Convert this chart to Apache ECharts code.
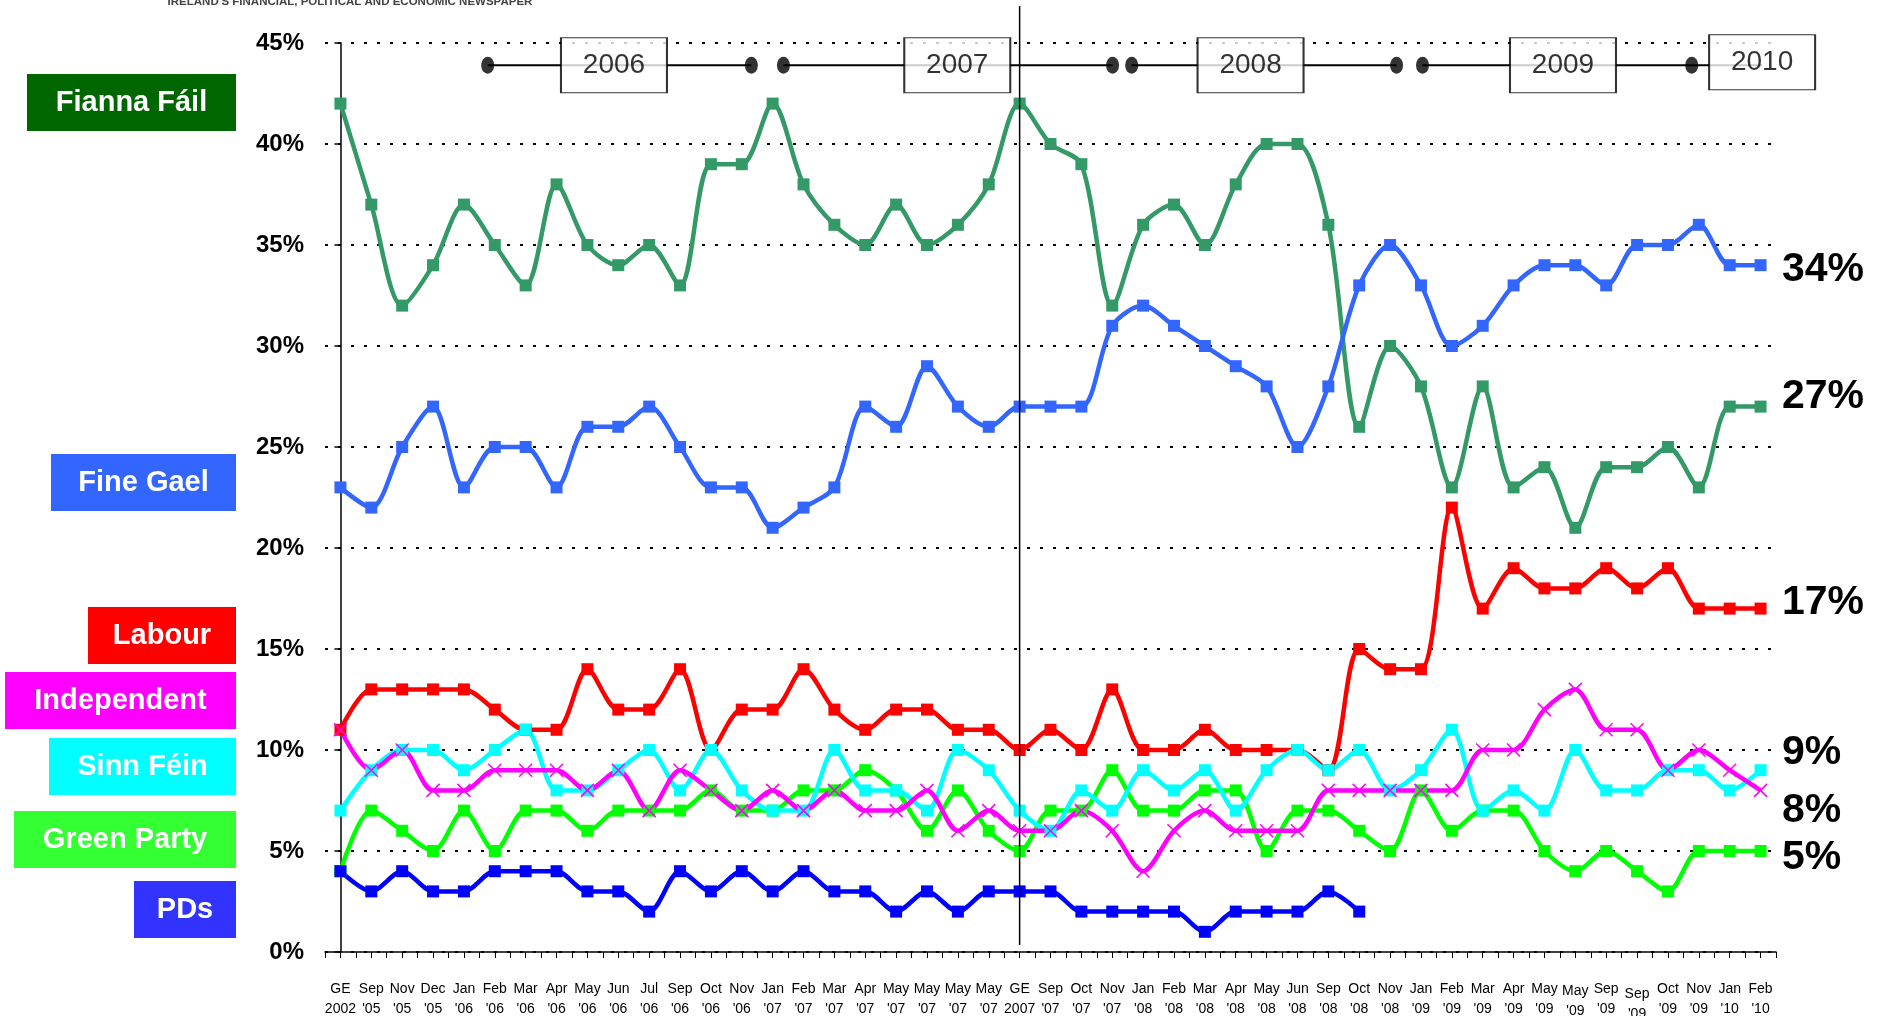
<!DOCTYPE html>
<html>
<head>
<meta charset="utf-8">
<script src="https://cdn.jsdelivr.net/npm/echarts@6/dist/echarts.min.js"></script>
<style>
html, body { margin: 0; padding: 0; background: #fff; }
#main { width: 1887px; height: 1016px; }
</style>
</head>
<body>
<div id="main"></div>
<script>
var FONT = '"Liberation Sans", Arial, Helvetica, sans-serif';

// poll dates (x axis)
var categories = ["GE\n2002", "Sep\n'05", "Nov\n'05", "Dec\n'05", "Jan\n'06", "Feb\n'06", "Mar\n'06", "Apr\n'06",
  "May\n'06", "Jun\n'06", "Jul\n'06", "Sep\n'06", "Oct\n'06", "Nov\n'06", "Jan\n'07", "Feb\n'07",
  "Mar\n'07", "Apr\n'07", "May\n'07", "May\n'07", "May\n'07", "May\n'07", "GE\n2007", "Sep\n'07",
  "Oct\n'07", "Nov\n'07", "Jan\n'08", "Feb\n'08", "Mar\n'08", "Apr\n'08", "May\n'08", "Jun\n'08",
  "Sep\n'08", "Oct\n'08", "Nov\n'08", "Jan\n'09", "Feb\n'09", "Mar\n'09", "Apr\n'09", "May\n'09",
  "May\n'09", "Sep\n'09", "Sep\n'09", "Oct\n'09", "Nov\n'09", "Jan\n'10", "Feb\n'10"];
// labels that sit a little lower in the original (index -> extra px)
var loweredLabels = { 40: 2, 42: 5 };

var fiannaFail = [42, 37, 32, 34, 37, 35, 33, 38, 35, 34, 35, 33, 39, 39, 42, 38, 36, 35, 37, 35, 36, 38, 42, 40,
  39, 32, 36, 37, 35, 38, 40, 40, 36, 26, 30, 28, 23, 28, 23, 24, 21, 24, 24, 25, 23, 27, 27];
var fineGael = [23, 22, 25, 27, 23, 25, 25, 23, 26, 26, 27, 25, 23, 23, 21, 22, 23, 27, 26, 29, 27, 26, 27, 27,
  27, 31, 32, 31, 30, 29, 28, 25, 28, 33, 35, 33, 30, 31, 33, 34, 34, 33, 35, 35, 36, 34, 34];
var labour = [11, 13, 13, 13, 13, 12, 11, 11, 14, 12, 12, 14, 10, 12, 12, 14, 12, 11, 12, 12, 11, 11, 10, 11,
  10, 13, 10, 10, 11, 10, 10, 10, 9, 15, 14, 14, 22, 17, 19, 18, 18, 19, 18, 19, 17, 17, 17];
var sinnFein = [7, 9, 10, 10, 9, 10, 11, 8, 8, 9, 10, 8, 10, 8, 7, 7, 10, 8, 8, 7, 10, 9, 7, 6,
  8, 7, 9, 8, 9, 7, 9, 10, 9, 10, 8, 9, 11, 7, 8, 7, 10, 8, 8, 9, 9, 8, 9];
var greenParty = [4, 7, 6, 5, 7, 5, 7, 7, 6, 7, 7, 7, 8, 7, 7, 8, 8, 9, 8, 6, 8, 6, 5, 7,
  7, 9, 7, 7, 8, 8, 5, 7, 7, 6, 5, 8, 6, 7, 7, 5, 4, 5, 4, 3, 5, 5, 5];
var independent = [11, 9, 10, 8, 8, 9, 9, 9, 8, 9, 7, 9, 8, 7, 8, 7, 8, 7, 7, 8, 6, 7, 6, 6,
  7, 6, 4, 6, 7, 6, 6, 6, 8, 8, 8, 8, 8, 10, 10, 12, 13, 11, 11, 9, 10, 9, 8];
var pds = [4, 3, 4, 3, 3, 4, 4, 4, 3, 3, 2, 4, 3, 4, 3, 4, 3, 3, 2, 3, 2, 3, 3, 3,
  2, 2, 2, 2, 1, 2, 2, 2, 3, 2, null, null, null, null, null, null, null, null, null, null, null, null, null];

var yTicks = [0, 5, 10, 15, 20, 25, 30, 35, 40, 45];

// year timeline along the top (positions in category units)
var yearLabels = ['2006', '2007', '2008', '2009', '2010'];
var yearBoxAt = [8.86, 19.98, 29.48, 39.6, 46.05];
var yearDots = [4.77, 13.31, 14.35, 25.01, 25.63, 34.21, 35.05, 43.77];
var yearSegments = [[4.77, 13.31], [14.35, 25.01], [25.63, 34.21], [35.05, 46.05]];
var timelineY = 43.9;

var partyNames = ['Fianna Fáil', 'Fine Gael', 'Labour', 'Independent', 'Sinn Féin', 'Green Party', 'PDs'];
var partyColors = ['#006600', '#3366FF', '#FF0000', '#FF00FF', '#00FFFF', '#33FF33', '#3333FF'];
var lineColors = ['#339966', '#3366FF', '#FF0000', '#FF00FF', '#00FFFF', '#00FF00', '#0000FF'];

var endLabels = ['34%', '27%', '17%', '9%', '8%', '5%'];
var endLabelAt = [33.8, 27.5, 17.3, 9.85, 7.0, 4.65];

var myChart = echarts.init(document.getElementById('main'), null, { renderer: 'canvas' });

function partySeries(name, data, color, cross) {
  return {
    name: name,
    type: 'line',
    data: data,
    smooth: 0.3,
    connectNulls: false,
    symbol: cross ? 'path://M0,0L10,10M10,0L0,10' : 'rect',
    symbolSize: cross ? 13 : 12,
    showAllSymbol: true,
    lineStyle: { color: color, width: 4.5 },
    itemStyle: cross ? { color: color, borderColor: color, borderWidth: 1.5 } : { color: color },
    emphasis: { disabled: true },
    z: 3
  };
}

var segData = [];
yearSegments.forEach(function (s) {
  segData.push([s[0], timelineY], [s[1], timelineY], [null, null]);
});

var catData = categories.map(function (c, i) {
  if (loweredLabels[i]) {
    return { value: c, textStyle: { padding: [loweredLabels[i], 0, 0, 0] } };
  }
  return c;
});

var option = {
  animation: false,
  backgroundColor: '#fff',
  grid: { left: 325, right: 111, top: 43, bottom: 64, containLabel: false, outerBoundsMode: 'none' },
  xAxis: [{
    type: 'category',
    data: catData,
    boundaryGap: true,
    axisLine: { lineStyle: { color: '#000', width: 1.5 } },
    axisTick: { show: false },
    axisLabel: {
      interval: 0, color: '#000', fontFamily: FONT, fontSize: 14, lineHeight: 20,
      margin: 27, hideOverlap: false
    },
    splitLine: { show: false }
  }, {
    type: 'value',
    min: -0.5, max: 46.5, interval: 0.5,
    position: 'bottom',
    axisLine: { show: false },
    axisTick: { show: true, length: 6, lineStyle: { color: '#000', width: 1 } },
    axisLabel: { show: false },
    splitLine: { show: false }
  }],
  yAxis: {
    type: 'value',
    min: yTicks[0], max: yTicks[yTicks.length - 1], interval: 5,
    axisLine: { show: true, lineStyle: { color: '#000', width: 1.5 } },
    axisTick: { show: true, length: 6, lineStyle: { color: '#000', width: 1.5 } },
    axisLabel: { formatter: '{value}%', color: '#000', fontFamily: FONT, fontWeight: 'bold', fontSize: 24, margin: 21 },
    splitLine: { show: true, lineStyle: { color: '#000', width: 2, type: [3, 10] } }
  },
  series: [
    partySeries('Fianna Fáil', fiannaFail, lineColors[0]),
    partySeries('Fine Gael', fineGael, lineColors[1]),
    partySeries('Labour', labour, lineColors[2]),
    partySeries('Green Party', greenParty, lineColors[5]),
    partySeries('Sinn Féin', sinnFein, lineColors[4]),
    partySeries('Independent', independent, lineColors[3], true),
    partySeries('PDs', pds, lineColors[6]),
    {
      type: 'line', xAxisIndex: 1, data: segData, symbol: 'none', connectNulls: false,
      lineStyle: { color: '#000', width: 2 }, z: 4, silent: true
    },
    {
      type: 'scatter', xAxisIndex: 1, symbol: 'circle', symbolSize: [13, 17], clip: false,
      data: yearDots.map(function (x) { return [x, timelineY]; }),
      itemStyle: { color: '#000' }, z: 5, silent: true
    },
    {
      type: 'scatter', xAxisIndex: 1, symbol: 'rect', symbolSize: [106, 55], clip: false,
      data: yearLabels.map(function (t, i) { return { value: [yearBoxAt[i], i === 4 ? 44.05 : timelineY], name: t }; }),
      itemStyle: { color: '#fff', borderColor: '#000', borderWidth: 1.5 },
      label: { show: true, position: 'inside', formatter: '{b}', color: '#000', fontFamily: FONT, fontSize: 28 },
      z: 6, silent: true
    }
  ]
};

myChart.setOption(option);

// annotations: party boxes on the left, GE 2007 divider, end values, masthead strip
var boxTop = [74, 454, 607, 672, 738, 811, 881];
var boxWidth = [209, 185, 148, 231, 187, 222, 102];
var graphics = [];
partyNames.forEach(function (n, i) {
  graphics.push({
    type: 'rect', shape: { x: 236 - boxWidth[i], y: boxTop[i], width: boxWidth[i], height: 57 },
    style: { fill: partyColors[i] }, z: 10
  });
  graphics.push({
    type: 'text', x: 236 - boxWidth[i] / 2, y: boxTop[i] + 29,
    style: { text: n, fill: '#fff', font: 'bold 29px ' + FONT, textAlign: 'center', textVerticalAlign: 'middle' },
    z: 11
  });
});

var geX = myChart.convertToPixel({ xAxisIndex: 1 }, 22);
graphics.push({
  type: 'line', shape: { x1: geX, y1: 6, x2: geX, y2: 945 },
  style: { stroke: '#000', lineWidth: 1.5 }, z: 7
});

endLabels.forEach(function (t, i) {
  var y = myChart.convertToPixel({ yAxisIndex: 0 }, endLabelAt[i]);
  graphics.push({
    type: 'text', x: 1782, y: y,
    style: { text: t, fill: '#000', font: 'bold 41px ' + FONT, textAlign: 'left', textVerticalAlign: 'middle' },
    z: 10
  });
});

graphics.push({
  type: 'text', x: 350, y: -4,
  style: { text: "IRELAND'S FINANCIAL, POLITICAL AND ECONOMIC NEWSPAPER", fill: '#444', font: 'bold 11.5px ' + FONT, textAlign: 'center' },
  z: 10
});

myChart.setOption({ graphic: graphics });
</script>
</body>
</html>
